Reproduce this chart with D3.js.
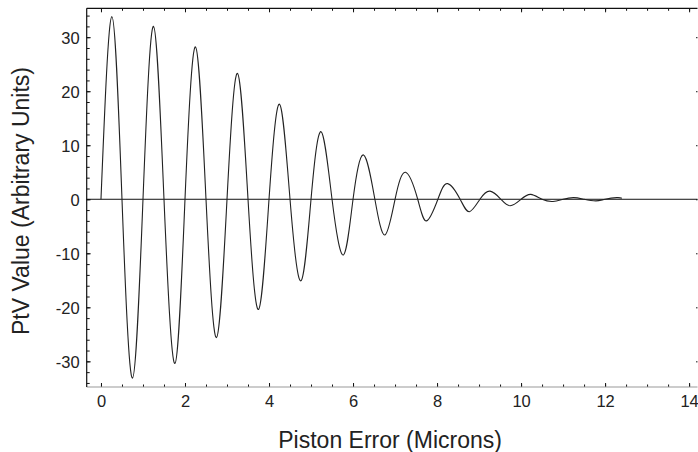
<!DOCTYPE html>
<html>
<head>
<meta charset="utf-8">
<script src="https://cdn.jsdelivr.net/npm/d3@7"></script>
<style>
  body { margin: 0; background: #fff; }
  svg { display: block; }
</style>
</head>
<body>
<div id="chart"></div>
<script>
// points: zero crossings and peaks / troughs
const pistonError = [0, 0.26, 0.5, 0.75, 1.0, 1.25, 1.5, 1.76, 2.0, 2.25, 2.5, 2.75, 3.0, 3.25, 3.5, 3.75,
    4.0, 4.25, 4.5, 4.76, 5.0, 5.24, 5.5, 5.77, 6.0, 6.25, 6.52, 6.76, 7.0, 7.25, 7.54, 7.75,
    8.02, 8.25, 8.55, 8.77, 9.02, 9.26, 9.52, 9.74, 10.0, 10.23, 10.5, 10.76, 11.0, 11.25,
    11.5, 11.78, 12.0, 12.28, 12.4];
const ptvValue = [0, 33.8, 0, -33.1, 0, 32.0, 0, -30.4, 0, 28.2, 0, -25.6, 0, 23.3, 0, -20.4,
    0, 17.6, 0, -15.1, 0, 12.5, 0, -10.3, 0, 8.2, 0, -6.6, 0, 5.0, 0, -4.0,
    0, 2.9, 0, -2.3, 0, 1.5, 0, -1.2, 0, 0.9, 0, -0.4, 0, 0.3,
    0, -0.3, 0, 0.3, 0.2];

const xTickLabels = [0, 2, 4, 6, 8, 10, 12, 14];
const yTickLabels = [-30, -20, -10, 0, 10, 20, 30];

const xTitle = "Piston Error (Microns)";
const yTitle = "PtV Value (Arbitrary Units)";

const W = 698, H = 452;
const plot = {left: 86.7, right: 697.5, top: 8.3, bottom: 387};

const svg = d3.select("#chart")
    .append("svg")
    .attr("width", W)
    .attr("height", H);

const x = d3.scaleLinear().domain([-0.34, 14.2]).range([plot.left, plot.right]);
const y = d3.scaleLinear().domain([-34.75, 35.35]).range([plot.bottom, plot.top]);

const font = "'Liberation Sans', Arial, sans-serif";
// plain hyphen for negatives, like the original
const fmt = d => String(d);

function styleAxis(g) {
    g.select(".domain").remove();
    g.selectAll(".tick line").attr("stroke", "#111");
    g.selectAll("text")
        .attr("font-family", font)
        .attr("font-size", 16.5)
        .attr("fill", "#222");
}

// minor ticks
const xMinor = d3.range(0, 14.01, 0.5);
const yMinor = d3.range(-34, 34.01, 2);

svg.append("g")
    .attr("transform", `translate(0,${plot.bottom})`)
    .call(d3.axisBottom(x).tickValues(xMinor).tickSize(-2.5).tickFormat(""))
    .call(styleAxis);
svg.append("g")
    .attr("transform", `translate(0,${plot.top})`)
    .call(d3.axisTop(x).tickValues(xMinor).tickSize(-2.5).tickFormat(""))
    .call(styleAxis);
svg.append("g")
    .attr("transform", `translate(${plot.left},0)`)
    .call(d3.axisLeft(y).tickValues(yMinor).tickSize(-3).tickFormat(""))
    .call(styleAxis);

// major ticks + labels
svg.append("g")
    .attr("transform", `translate(0,${plot.bottom})`)
    .call(d3.axisBottom(x).tickValues(xTickLabels).tickSize(-4).tickPadding(8.5).tickFormat(fmt))
    .call(styleAxis);
svg.append("g")
    .attr("transform", `translate(0,${plot.top})`)
    .call(d3.axisTop(x).tickValues(xTickLabels).tickSize(-4).tickFormat(""))
    .call(styleAxis);
svg.append("g")
    .attr("transform", `translate(${plot.left},0)`)
    .call(d3.axisLeft(y).tickValues(yTickLabels).tickSize(-4).tickPadding(7).tickFormat(fmt))
    .call(styleAxis)
    .selectAll("text").attr("dy", "0.38em");
svg.append("g")
    .attr("transform", `translate(${plot.right},0)`)
    .call(d3.axisRight(y).tickValues(yTickLabels).tickSize(-1.5).tickFormat(""))
    .call(styleAxis);

// frame
svg.append("line").attr("x1", plot.left).attr("x2", plot.right).attr("y1", plot.bottom).attr("y2", plot.bottom)
    .attr("stroke", "#999").attr("stroke-width", 1);
svg.append("line").attr("x1", plot.left).attr("x2", plot.right).attr("y1", plot.top).attr("y2", plot.top)
    .attr("stroke", "#111").attr("stroke-width", 1.2);
svg.append("line").attr("x1", plot.left).attr("x2", plot.left).attr("y1", plot.top).attr("y2", plot.bottom)
    .attr("stroke", "#111").attr("stroke-width", 1.2);

// zero line
svg.append("line").attr("x1", plot.left).attr("x2", plot.right).attr("y1", y(0)).attr("y2", y(0))
    .attr("stroke", "#111").attr("stroke-width", 1);

// the curve
const points = pistonError.map((d, i) => [d, ptvValue[i]]);
const line = d3.line()
    .x(d => x(d[0]))
    .y(d => y(d[1]))
    .curve(d3.curveNatural);

svg.append("path")
    .datum(points)
    .attr("d", line)
    .attr("fill", "none")
    .attr("stroke", "#222")
    .attr("stroke-width", 1.1);

// axis titles
svg.append("text")
    .attr("x", (plot.left + plot.right) / 2 - 2)
    .attr("y", 448)
    .attr("text-anchor", "middle")
    .attr("font-family", font)
    .attr("font-size", 23)
    .attr("fill", "#222")
    .text(xTitle);

svg.append("text")
    .attr("transform", `translate(28.5,201) rotate(-90)`)
    .attr("text-anchor", "middle")
    .attr("font-family", font)
    .attr("font-size", 23)
    .attr("fill", "#222")
    .text(yTitle);
</script>
</body>
</html>
